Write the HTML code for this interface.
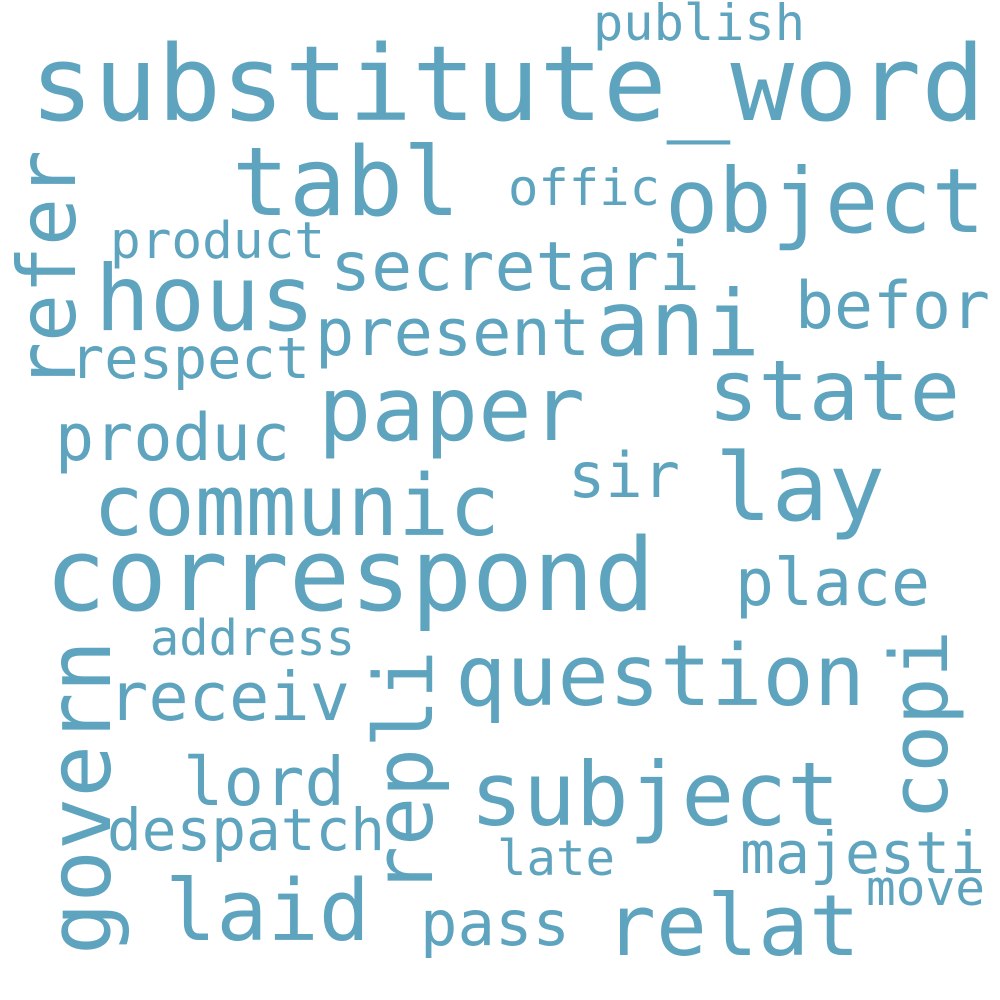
<!DOCTYPE html>
<html><head><meta charset="utf-8"><style>
html,body{margin:0;padding:0;background:#fff;width:1000px;height:1000px;overflow:hidden}
text{font-family:"DejaVu Sans Mono","Liberation Mono",monospace;fill:#5fa4bf}
</style></head><body>
<svg width="1000" height="1000" viewBox="0 0 1000 1000" xmlns="http://www.w3.org/2000/svg">
<g id="words"></g>
</svg>
<script>
const words = ["substitute_word","publish","tabl","offic","object","product","hous","secretari","befor","ani","present","respect","state","paper","produc","sir","lay","communic","correspond","place","address","question","receiv","lord","subject","despatch","late","majesti","move","laid","pass","relat","refer","govern","repli","copi"];
const sizes = [104,50,95,50,89,51,91,68,65,91,65,57,84,89,65,62,94,85,101,65,49,85,67,67,88,58,49,58,49,85,62,85,80,87,81,79];
const layout = [
 [30,120,955,0],[593,40,212,0],[232,215,228,0],[508,205,152,0],[665,232,320,0],
 [110,258,215,0],[95,330,220,0],[330,290,370,0],[795,328,195,0],[595,355,165,0],
 [315,355,275,0],[70,378,240,0],[708,420,252,0],[318,440,267,0],[55,460,235,0],
 [568,497,112,0],[715,520,170,0],[93,535,407,0],[45,610,610,0],[735,605,195,0],
 [150,655,205,0],[455,705,410,0],[108,720,242,0],[183,805,162,0],[470,825,370,0],
 [107,850,278,0],[497,875,118,0],[740,873,245,0],[866,905,119,0],[165,940,205,0],
 [420,945,150,0],[605,955,255,0],
 [75,390,240,1],[110,955,315,1],[432,895,245,1],[947,820,190,1]
];
const g = document.getElementById('words');
const NS = "http://www.w3.org/2000/svg";
words.forEach((w,i)=>{
  const [x,y,len,rot] = layout[i];
  const t = document.createElementNS(NS,'text');
  
  
  t.setAttribute('x', x);
  t.setAttribute('y', y);
  t.setAttribute('font-size', sizes[i]);
  t.setAttribute('textLength', len);
  t.setAttribute('lengthAdjust', 'spacingAndGlyphs');
  if (rot) t.setAttribute('transform', 'rotate(-90 ' + x + ' ' + y + ')');
  t.textContent = w;
  g.appendChild(t);
});
</script>
</body></html>
